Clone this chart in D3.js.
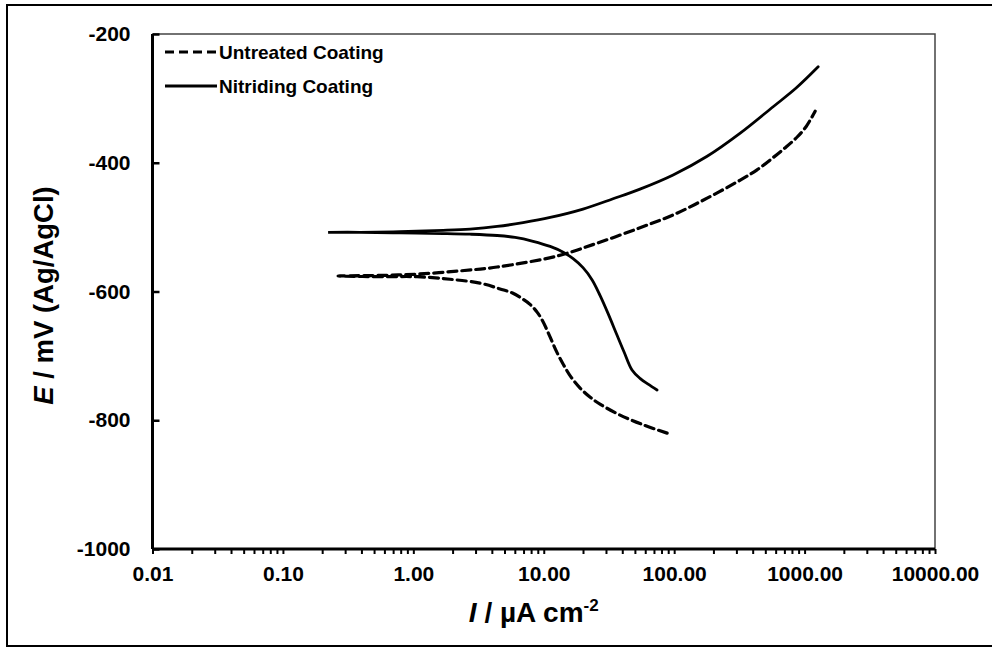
<!DOCTYPE html>
<html>
<head>
<meta charset="utf-8">
<script src="https://cdn.jsdelivr.net/npm/d3@7"></script>
<style>
  html, body { margin: 0; padding: 0; background: #fff; }
  svg { display: block; font-family: "Liberation Sans", Arial, sans-serif; font-weight: bold; }
</style>
</head>
<body>
<svg id="chart" width="992" height="648"></svg>
<script>
// ---- data ----
const seriesNames = ["Untreated Coating", "Nitriding Coating"];

// Untreated coating: cathodic end -> Ecorr -> anodic end
const untreatedI = [88.3, 57.7, 38.5, 27.0, 22.6, 19.0, 16.2, 14.1, 12.65, 11.2, 9.88, 8.89, 7.85, 6.82, 5.71, 4.62, 3.24, 1.91, 1.07, 0.556, 0.265,
                    0.556, 1.07, 2.28, 4.39, 12.6, 25.6, 54.7, 98.2, 179, 321, 432, 574, 708, 877, 1026, 1205];
const untreatedE = [-820, -807, -792, -775, -764, -750, -733, -713, -695, -671, -647, -632, -620, -611, -602, -596, -587, -581, -577, -577, -576,
                    -575, -573, -568, -562, -545, -525, -501, -481, -455, -427, -411, -392, -377, -360, -344, -320];

// Nitriding coating: cathodic end -> Ecorr -> anodic end
const nitridingI = [73.9, 63.1, 54.7, 47.5, 41.3, 36.5, 31.1, 27.0, 23.5, 20.0, 16.8, 14.1, 11.2, 8.28, 6.03, 4.39, 2.72, 1.69, 0.79, 0.39, 0.222,
                    0.39, 0.79, 1.69, 2.72, 4.39, 6.94, 11.2, 20.0, 34.0, 54.7, 98.2, 179, 321, 574, 861, 1271];
const nitridingE = [-753, -744, -735, -722, -694, -668, -634, -606, -582, -563, -549, -539, -530, -522, -516, -513, -511, -510, -509, -508, -508,
                    -508, -507, -505, -503, -499, -493, -485, -472, -456, -441, -419, -390, -354, -313, -284, -251];

const xTickValues = [0.01, 0.1, 1, 10, 100, 1000, 10000];
const xTickLabels = ["0.01", "0.10", "1.00", "10.00", "100.00", "1000.00", "10000.00"];
const yTickValues = [-1000, -800, -600, -400, -200];
const yTickLabels = ["-1000", "-800", "-600", "-400", "-200"];

// ---- layout ----
const svg = d3.select("#chart");
const pL = 152.5, pR = 935, pT = 34, pB = 549;

const x = d3.scaleLog().domain([0.01, 10000]).range([pL, pR]);
const y = d3.scaleLinear().domain([-1000, -200]).range([pB, pT]);

// outer border
svg.append("rect").attr("x", 7).attr("y", 5).attr("width", 1000).attr("height", 641)
  .attr("fill", "none").attr("stroke", "#000").attr("stroke-width", 2);

// plot frame (top/right thin)
svg.append("path")
  .attr("d", `M${pL},${pT}H${pR}V${pB}`)
  .attr("fill", "none").attr("stroke", "#444").attr("stroke-width", 1.5);

// minor ticks on x
const minorTicks = [];
for (let d = -2; d < 4; d++) {
  for (let k = 2; k <= 9; k++) minorTicks.push(k * Math.pow(10, d));
}
const xMinorAxis = d3.axisBottom(x).tickValues(minorTicks).tickSize(5).tickFormat("");
const gxm = svg.append("g").attr("transform", `translate(0,${pB})`).call(xMinorAxis);
gxm.select(".domain").remove();
gxm.selectAll("line").attr("stroke", "#000").attr("stroke-width", 2);

// x axis
const xAxis = d3.axisBottom(x).tickValues(xTickValues).tickSize(5).tickPadding(12)
  .tickFormat((d, i) => xTickLabels[i]);
const gx = svg.append("g").attr("transform", `translate(0,${pB})`).call(xAxis);
gx.select(".domain").attr("stroke", "#000").attr("stroke-width", 3).attr("d", `M${pL},0H${pR}`);
gx.selectAll("line").attr("stroke", "#000").attr("stroke-width", 2);
gx.selectAll("text").attr("font-size", 21).attr("font-weight", "bold").attr("fill", "#000")
  .attr("font-family", "Liberation Sans, Arial, sans-serif");

// y axis (ticks inside)
const yAxis = d3.axisLeft(y).tickValues(yTickValues).tickSize(-7).tickPadding(22)
  .tickFormat((d, i) => yTickLabels[i]);
const gy = svg.append("g").attr("transform", `translate(${pL},0)`).call(yAxis);
gy.select(".domain").attr("stroke", "#000").attr("stroke-width", 3).attr("d", `M0,${pT}V${pB}`);
gy.selectAll("line").attr("stroke", "#000").attr("stroke-width", 2.5);
gy.selectAll("text").attr("font-size", 21).attr("font-weight", "bold").attr("fill", "#000")
  .attr("font-family", "Liberation Sans, Arial, sans-serif");

// axis titles
const yTitle = svg.append("text")
  .attr("transform", `translate(53,${(pT + pB) / 2 + 4}) rotate(-90)`)
  .attr("text-anchor", "middle").attr("font-size", 27.5).attr("fill", "#000");
yTitle.append("tspan").attr("font-style", "italic").text("E");
yTitle.append("tspan").text(" / mV (Ag/AgCl)");

const xTitle = svg.append("text")
  .attr("x", (pL + pR) / 2 - 10).attr("y", 622)
  .attr("text-anchor", "middle").attr("font-size", 28).attr("fill", "#000");
xTitle.append("tspan").attr("font-style", "italic").text("I");
xTitle.append("tspan").text(" / µA cm");
xTitle.append("tspan").attr("font-size", 17).attr("dy", -11).text("-2");

// curves
const line = d3.line()
  .x(d => x(d[0])).y(d => y(d[1]))
  .curve(d3.curveCatmullRom.alpha(0.5));

const untreated = untreatedI.map((v, i) => [v, untreatedE[i]]);
const nitriding = nitridingI.map((v, i) => [v, nitridingE[i]]);

svg.append("path").datum(untreated).attr("d", line)
  .attr("fill", "none").attr("stroke", "#000").attr("stroke-width", 3.2)
  .attr("stroke-dasharray", "9,5").attr("stroke-linecap", "round");

svg.append("path").datum(nitriding).attr("d", line)
  .attr("fill", "none").attr("stroke", "#000").attr("stroke-width", 2.8)
  .attr("stroke-linecap", "round");

// legend
const legend = svg.append("g");
const legY = [52, 86];
seriesNames.forEach((name, i) => {
  legend.append("line")
    .attr("x1", 165).attr("x2", 217).attr("y1", legY[i]).attr("y2", legY[i])
    .attr("stroke", "#000").attr("stroke-width", 3.2)
    .attr("stroke-dasharray", i === 0 ? "9,5" : null);
  legend.append("text").attr("x", 219).attr("y", legY[i] + 7)
    .attr("font-size", 19).attr("fill", "#000").text(name);
});
</script>
</body>
</html>
